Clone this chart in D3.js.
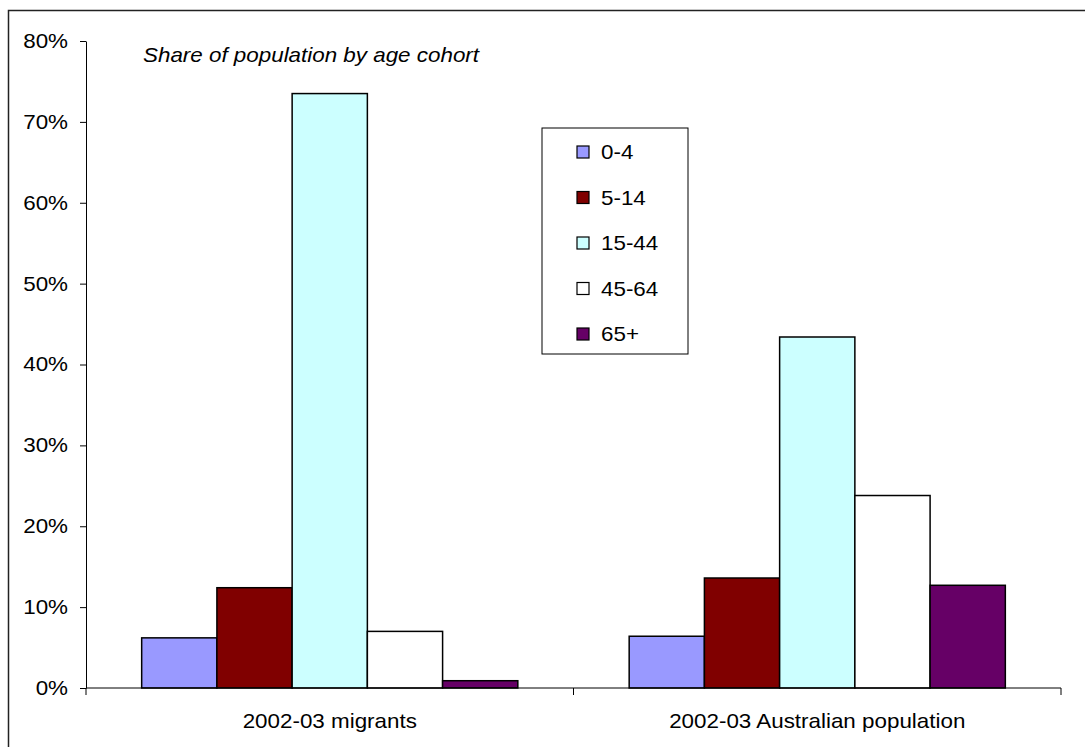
<!DOCTYPE html>
<html>
<head>
<meta charset="utf-8">
<script src="https://cdn.jsdelivr.net/npm/d3@7"></script>
<style>
  body { margin: 0; background: #fff; }
  svg { display: block; font-family: 'Liberation Sans', Arial, sans-serif; }
</style>
</head>
<body>
<div id="chart"></div>
<script>
const groups = ['2002-03 migrants', '2002-03 Australian population']
const cohorts = ['0-4', '5-14', '15-44', '45-64', '65+']
const migrants = [0.062, 0.124, 0.735, 0.070, 0.009]
const australians = [0.064, 0.136, 0.434, 0.238, 0.127]
const colors = ['#9999ff', '#800000', '#ccffff', '#ffffff', '#660066']
const yTicks = [0, 0.1, 0.2, 0.3, 0.4, 0.5, 0.6, 0.7, 0.8]

const seriesByGroup = [migrants, australians]

const width = 1085
const height = 747
const margin = { left: 86, right: 24, top: 41, bottom: 59 }
const fontSize = 20
const stretch = 1.12 // the original text is drawn a bit wider than Arial

const svg = d3.select('#chart')
  .append('svg')
  .attr('width', width)
  .attr('height', height)

// outer frame (only top and left edges are visible in the picture)
svg.append('rect')
  .attr('x', 8.5)
  .attr('y', 10.5)
  .attr('width', width + 20)
  .attr('height', height + 20)
  .attr('fill', 'none')
  .attr('stroke', '#222')
  .attr('stroke-width', 1.5)

const x0 = d3.scaleBand()
  .domain(groups)
  .range([margin.left, width - margin.right])
  .paddingInner(0.2284)
  .paddingOuter(0.1142)

const x1 = d3.scaleBand()
  .domain(cohorts)
  .range([0, x0.bandwidth()])

const y = d3.scaleLinear()
  .domain([0, 0.8])
  .range([height - margin.bottom, margin.top])

const baseY = y(0)

// bars
const g = svg.append('g')
g.selectAll('g.group')
  .data(groups)
  .join('g')
  .attr('class', 'group')
  .attr('transform', (d) => `translate(${x0(d)},0)`)
  .selectAll('rect')
  .data((d, i) => seriesByGroup[i].map((v, j) => ({ cohort: cohorts[j], value: v, color: colors[j] })))
  .join('rect')
  .attr('x', (d) => x1(d.cohort))
  .attr('y', (d) => y(d.value))
  .attr('width', x1.bandwidth())
  .attr('height', (d) => baseY - y(d.value))
  .attr('fill', (d) => d.color)
  .attr('stroke', '#000')
  .attr('stroke-width', 1.5)

// y axis
const yAxis = svg.append('g')
  .attr('transform', `translate(${margin.left},0)`)
  .call(d3.axisLeft(y).tickValues(yTicks).tickFormat(d3.format('.0%')).tickSize(6).tickSizeOuter(0))
yAxis.select('.domain').attr('stroke', '#000')
yAxis.selectAll('.tick line').attr('stroke', '#000')
yAxis.selectAll('.tick text')
  .attr('x', -18 / stretch)
  .attr('transform', `scale(${stretch},1)`)
  .attr('font-size', fontSize)
  .attr('font-family', "'Liberation Sans', Arial, sans-serif")
  .attr('fill', '#000')

// x axis: line + ticks at the group boundaries
const xStart = margin.left
const xEnd = width - margin.right
const step = x0.step()
svg.append('line')
  .attr('x1', xStart).attr('x2', xEnd)
  .attr('y1', baseY).attr('y2', baseY)
  .attr('stroke', '#000')
const boundaries = d3.range(groups.length + 1).map((i) => xStart + i * step)
svg.selectAll('line.xtick')
  .data(boundaries)
  .join('line')
  .attr('class', 'xtick')
  .attr('x1', (d) => d).attr('x2', (d) => d)
  .attr('y1', baseY).attr('y2', baseY + 7)
  .attr('stroke', '#000')

svg.selectAll('text.cat')
  .data(groups)
  .join('text')
  .attr('class', 'cat')
  .attr('transform', (d) => `translate(${x0(d) + x0.bandwidth() / 2},728) scale(${stretch},1)`)
  .attr('text-anchor', 'middle')
  .attr('font-size', fontSize)
  .text((d) => d)

// title inside plot
svg.append('text')
  .attr('transform', `translate(143,62) scale(${stretch},1)`)
  .attr('font-size', fontSize)
  .attr('font-style', 'italic')
  .text('Share of population by age cohort')

// legend
const legend = svg.append('g').attr('transform', 'translate(542,128)')
legend.append('rect')
  .attr('width', 146)
  .attr('height', 226)
  .attr('fill', '#fff')
  .attr('stroke', '#000')
  .attr('stroke-width', 1)

const items = legend.selectAll('g.item')
  .data(cohorts)
  .join('g')
  .attr('class', 'item')
  .attr('transform', (d, i) => `translate(0,${24 + i * 45.5})`)
items.append('rect')
  .attr('x', 35)
  .attr('y', -6)
  .attr('width', 12)
  .attr('height', 12)
  .attr('fill', (d, i) => colors[i])
  .attr('stroke', '#000')
  .attr('stroke-width', 1.2)
items.append('text')
  .attr('transform', `translate(59,7) scale(${stretch},1)`)
  .attr('font-size', fontSize)
  .text((d) => d)
</script>
</body>
</html>
